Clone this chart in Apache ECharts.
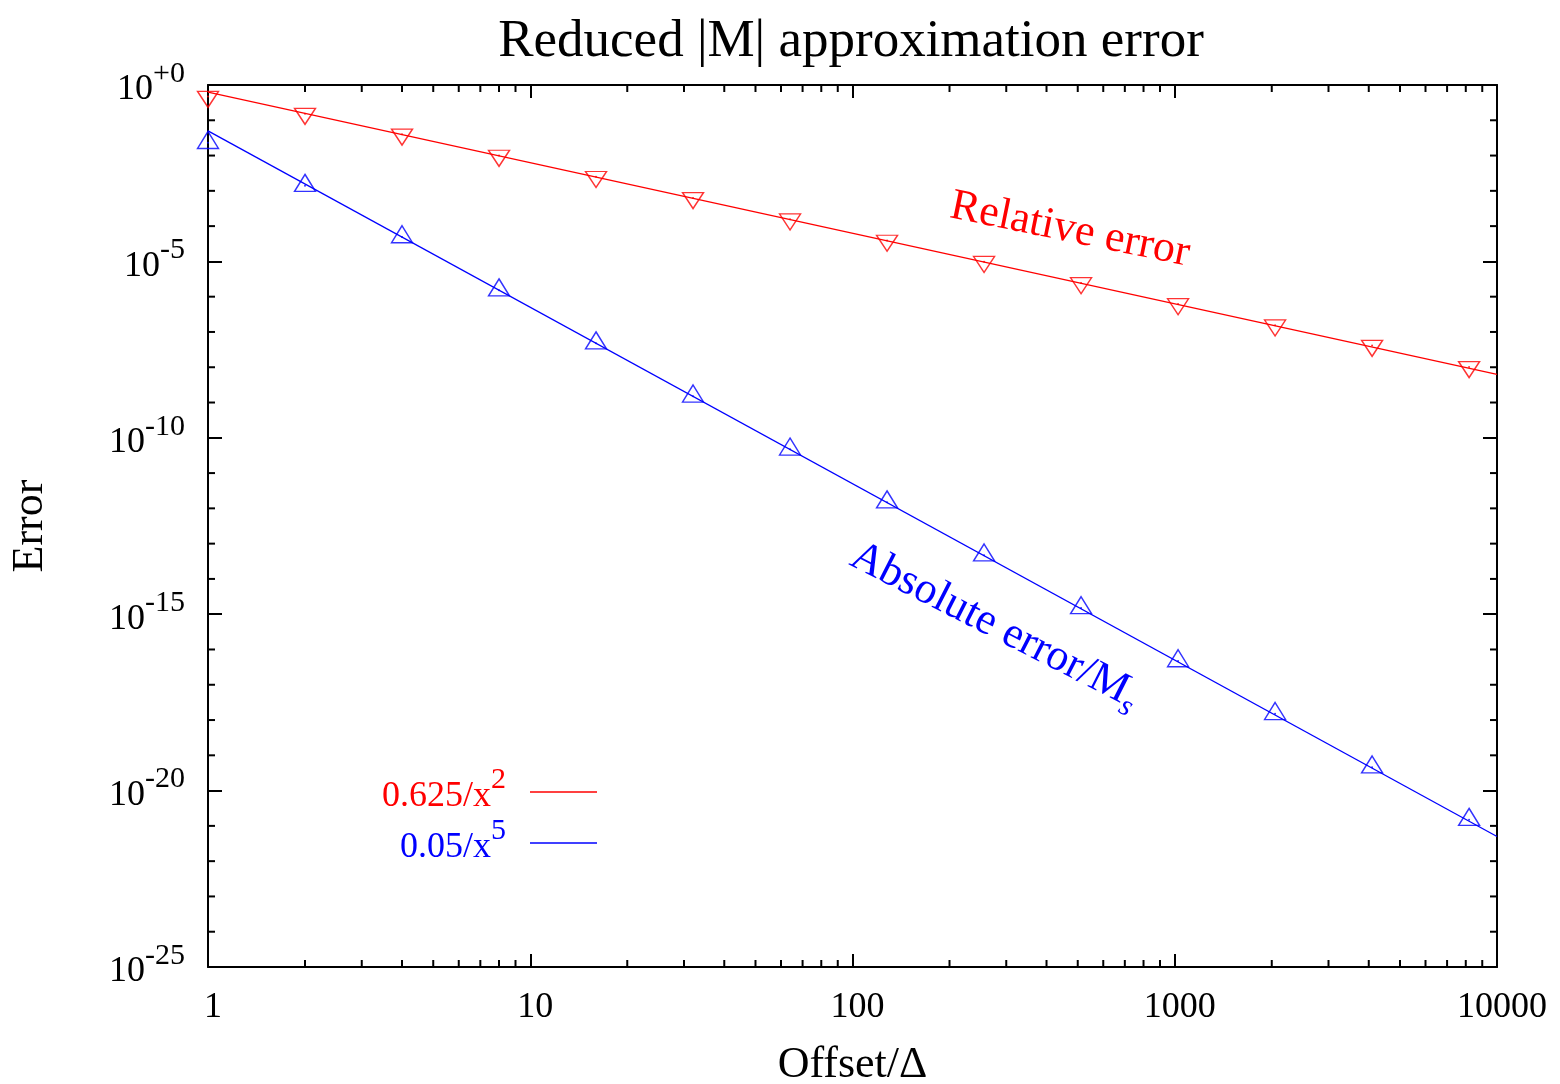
<!DOCTYPE html>
<html>
<head>
<meta charset="utf-8">
<script src="https://cdn.jsdelivr.net/npm/echarts@6/dist/echarts.min.js"></script>
<style>html,body{margin:0;padding:0;background:#fff}#c{width:1560px;height:1084px}</style>
</head>
<body>
<div id="c"></div>
<script>
// ---- data ----
const offsets = [1, 2, 4, 8, 16, 32, 64, 128, 256, 512, 1024, 2048, 4096, 8192];
const relativeError = [0.47, 0.154, 0.040, 0.0100, 2.5e-3, 6.3e-4, 1.57e-4, 3.9e-5, 9.8e-6, 2.45e-6, 6.2e-7, 1.55e-7, 4.1e-8, 1.02e-8];
const absoluteError = [0.023, 1.4e-3, 4.9e-5, 1.53e-6, 4.8e-8, 1.5e-9, 4.7e-11, 1.5e-12, 4.7e-14, 1.5e-15, 4.7e-17, 1.5e-18, 4.6e-20, 1.5e-21];
const fitX = [1, 10000];
const fitRelative = [0.625, 6.25e-9];
const fitAbsolute = [0.05, 5e-22];
const fitNames = ['0.625/x^2', '0.05/x^5'];
const fitLabelBase = ['0.625/x', '0.05/x'];
const fitLabelExp = ['2', '5'];
const xTickLabels = ['1', '10', '100', '1000', '10000'];
const yTickValues = [1, 1e-5, 1e-10, 1e-15, 1e-20, 1e-25];
const yTickExps = ['+0', '-5', '-10', '-15', '-20', '-25'];
const xMinorTicks = [2,3,4,5,6,7,8,9, 20,30,40,50,60,70,80,90, 200,300,400,500,600,700,800,900, 2000,3000,4000,5000,6000,7000,8000,9000];
const yMinorTicks = [1e-1,1e-2,1e-3,1e-4,1e-6,1e-7,1e-8,1e-9,1e-11,1e-12,1e-13,1e-14,1e-16,1e-17,1e-18,1e-19,1e-21,1e-22,1e-23,1e-24];
const titleText = 'Reduced |M| approximation error';
const xName = 'Offset/Δ';
const yName = 'Error';

const FONT = '"Liberation Serif", "Times New Roman", serif';
const RED = '#ff0000', BLUE = '#0000ff';

const chart = echarts.init(document.getElementById('c'));

const downTri = 'path://M0,0L21,0L10.5,16Z';
const upTri = 'path://M10.5,0L21,16L0,16Z';

function axisCommon(pos, showLabel) {
  return {
    type: 'log', logBase: 10, position: pos,
    axisLine: { show: true, onZero: false, lineStyle: { color: '#000', width: 2 } },
    axisTick: { show: true, inside: true, length: 13, lineStyle: { color: '#000', width: 2 } },
    splitLine: { show: false },
    minorTick: { show: false },
    axisLabel: { show: showLabel }
  };
}

const xBottom = Object.assign(axisCommon('bottom', true), {
  min: 1, max: 10000, interval: 1,
  name: xName, nameLocation: 'middle', nameGap: 76, nameMoveOverlap: false,
  nameTextStyle: { fontFamily: FONT, fontSize: 44, color: '#000' },
  axisLabel: {
    show: true, fontFamily: FONT, fontSize: 36, color: '#000', margin: 23,
    padding: [0, 0, 0, 10], showMinLabel: true, showMaxLabel: true, hideOverlap: false,
    formatter: v => xTickLabels[Math.max(0, Math.round(Math.log10(v)))]
  }
});
const xTop = Object.assign(axisCommon('top', false), { min: 1, max: 10000, interval: 1 });

// y tick labels are drawn by a custom series (below) placed through the y scale,
// because the log axis reports its 1e-25 minimum tick as 0 and cannot place that label.
const yLeft = Object.assign(axisCommon('left', false), {
  min: 1e-25, max: 1, interval: 5,
  name: yName, nameLocation: 'middle', nameGap: 156, nameMoveOverlap: false,
  nameTextStyle: { fontFamily: FONT, fontSize: 44, color: '#000' }
});
yLeft.axisTick.length = 14;
const yRight = Object.assign(axisCommon('right', false), { min: 1e-25, max: 1, interval: 5 });
yRight.axisTick.length = 14;

function minorTickSeries(values, isX) {
  return {
    type: 'custom', xAxisIndex: 0, yAxisIndex: 0, silent: true, z: 10, clip: false,
    data: values.map(v => isX ? [v, 1] : [1, v]),
    renderItem: (params, api) => {
      const cs = params.coordSys;
      const p = api.coord([api.value(0), api.value(1)]);
      const st = { stroke: '#000', lineWidth: 2 };
      if (isX) {
        const x = p[0], b = cs.y + cs.height, t = cs.y;
        return { type: 'group', children: [
          { type: 'line', shape: { x1: x, y1: b, x2: x, y2: b - 7 }, style: st },
          { type: 'line', shape: { x1: x, y1: t, x2: x, y2: t + 7 }, style: st }
        ]};
      } else {
        const y = p[1], l = cs.x, r = cs.x + cs.width;
        return { type: 'group', children: [
          { type: 'line', shape: { x1: l, y1: y, x2: l + 7, y2: y }, style: st },
          { type: 'line', shape: { x1: r, y1: y, x2: r - 7, y2: y }, style: st }
        ]};
      }
    }
  };
}

const yLabelSeries = {
  type: 'custom', xAxisIndex: 0, yAxisIndex: 0, silent: true, z: 10, clip: false,
  data: yTickValues.map((v, i) => [1, v, i]),
  renderItem: (params, api) => {
    const cs = params.coordSys;
    const p = api.coord([1, api.value(1)]);
    return {
      type: 'text', x: cs.x - 23, y: p[1],
      style: {
        text: '{b|10}{s|' + yTickExps[api.value(2)] + '}',
        align: 'right', verticalAlign: 'middle',
        rich: {
          b: { fontFamily: FONT, fontSize: 36, fill: '#000', padding: [10, 0, 0, 0] },
          s: { fontFamily: FONT, fontSize: 30, fill: '#000', padding: [0, 0, 22, 0] }
        }
      }
    };
  }
};

function legendFor(i, color, top) {
  return {
    data: [fitNames[i]], orient: 'horizontal', align: 'right',
    right: 963, top: top, itemWidth: 67, itemHeight: 1.5, icon: 'rect',
    selectedMode: false, itemGap: 0, padding: 0,
    formatter: () => '{a|' + fitLabelBase[i] + '}{s|' + fitLabelExp[i] + '}',
    textStyle: {
      color: color,
      rich: {
        a: { fontFamily: FONT, fontSize: 36, color: color, padding: [10, 0, 0, 0] },
        s: { fontFamily: FONT, fontSize: 30, color: color, padding: [0, 19, 24, 0] }
      }
    }
  };
}

const option = {
  animation: false,
  backgroundColor: '#fff',
  title: {
    text: titleText, left: 846, textAlign: 'center', top: 11,
    textStyle: { fontFamily: FONT, fontSize: 53, fontWeight: 'normal', color: '#000' }
  },
  grid: { left: 208, right: 63, top: 85, bottom: 117, containLabel: false, outerBoundsMode: 'none' },
  xAxis: [xBottom, xTop],
  yAxis: [yLeft, yRight],
  legend: [legendFor(0, RED, 765), legendFor(1, BLUE, 816)],
  series: [
    { name: fitNames[0], type: 'line', data: fitX.map((x, i) => [x, fitRelative[i]]),
      symbol: 'none', color: RED, lineStyle: { color: RED, width: 1.3 }, z: 3 },
    { name: fitNames[1], type: 'line', data: fitX.map((x, i) => [x, fitAbsolute[i]]),
      symbol: 'none', color: BLUE, lineStyle: { color: BLUE, width: 1.3 }, z: 3 },
    { name: 'Relative error', type: 'scatter', data: offsets.map((x, i) => [x, relativeError[i]]),
      symbol: downTri, symbolSize: [21, 16], symbolOffset: [0, 2.7], clip: false,
      itemStyle: { color: 'rgba(0,0,0,0)', borderColor: RED, borderWidth: 1.4 }, z: 4 },
    { name: 'Relative error dots', type: 'scatter', data: offsets.map((x, i) => [x, relativeError[i]]),
      symbol: 'circle', symbolSize: 2, clip: false, itemStyle: { color: RED }, z: 4 },
    { name: 'Absolute error', type: 'scatter', data: offsets.map((x, i) => [x, absoluteError[i]]),
      symbol: upTri, symbolSize: [21, 17], symbolOffset: [0, -2.8], clip: false,
      itemStyle: { color: 'rgba(0,0,0,0)', borderColor: BLUE, borderWidth: 1.4 }, z: 4 },
    { name: 'Absolute error dots', type: 'scatter', data: offsets.map((x, i) => [x, absoluteError[i]]),
      symbol: 'circle', symbolSize: 2, clip: false, itemStyle: { color: BLUE }, z: 4 },
    minorTickSeries(xMinorTicks, true),
    minorTickSeries(yMinorTicks, false),
    yLabelSeries
  ],
  graphic: [
    { type: 'text', x: 1070, y: 230, rotation: -11.5 * Math.PI / 180, z: 20,
      style: { text: 'Relative error', fill: RED, font: '44px ' + FONT, align: 'center', verticalAlign: 'middle' } },
    { type: 'text', x: 995, y: 626, rotation: -27 * Math.PI / 180, z: 20,
      style: { text: '{a|Absolute error/M}{s|s}', align: 'center', verticalAlign: 'middle',
        rich: {
          a: { fontFamily: FONT, fontSize: 44, fill: BLUE },
          s: { fontFamily: FONT, fontSize: 30, fontStyle: 'italic', fill: BLUE, padding: [26, 0, 0, 0] }
        } } }
  ]
};
chart.setOption(option);
</script>
</body>
</html>
